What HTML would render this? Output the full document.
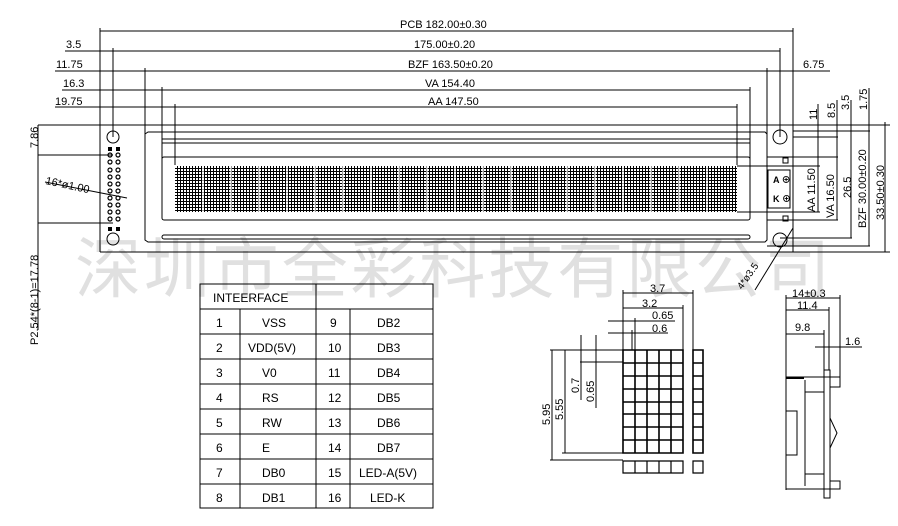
<!DOCTYPE html>
<html><head><meta charset="utf-8"><style>
html,body{margin:0;padding:0;background:#fff}
svg{display:block}
text{font-family:"Liberation Sans","Noto Sans CJK SC",sans-serif;fill:#000}
</style></head><body>
<svg width="898" height="526" viewBox="0 0 898 526" xmlns="http://www.w3.org/2000/svg">
<defs>
<pattern id="dots" width="3" height="3" patternUnits="userSpaceOnUse">
<rect width="3" height="3" fill="#fff"/><rect width="3" height="1" fill="#000"/><rect width="1" height="3" fill="#000"/>
</pattern>
</defs>
<!-- watermark -->
<text x="75" y="292" font-size="66" style="fill:#e0e0e0;font-family:'Noto Sans CJK SC',sans-serif" textLength="755">深圳市全彩科技有限公司</text>

<g stroke="#000" stroke-width="1" fill="none">
<line x1="100" y1="31" x2="793" y2="31"/>
<line x1="65" y1="51" x2="780" y2="51"/>
<line x1="55" y1="71" x2="830" y2="71"/>
<line x1="62" y1="90" x2="750" y2="90"/>
<line x1="55" y1="107" x2="737" y2="107"/>
<line x1="100" y1="28" x2="100" y2="252"/>
<line x1="113" y1="48" x2="113" y2="137"/>
<line x1="145" y1="68" x2="145" y2="134"/>
<line x1="162" y1="87" x2="162" y2="160"/>
<line x1="175" y1="104" x2="175" y2="165"/>
<line x1="793" y1="28" x2="793" y2="252"/>
<line x1="780" y1="48" x2="780" y2="137"/>
<line x1="767" y1="68" x2="767" y2="134"/>
<line x1="750" y1="87" x2="750" y2="160"/>
<line x1="737" y1="104" x2="737" y2="165"/>
<line x1="38" y1="125" x2="890" y2="125"/>
<line x1="100" y1="252" x2="890" y2="252"/>
<path d="M145 134 L148 132 L765 132 L767 134 L767 240 L765 242 L148 242 L145 240 Z"/>
<rect x="162" y="139" width="588" height="4"/>
<rect x="162" y="235" width="588" height="4" rx="2"/>
<rect x="162" y="157" width="588" height="63" rx="2"/>
<circle cx="113" cy="137" r="6"/>
<circle cx="113" cy="239" r="6"/>
<line x1="38" y1="155" x2="113" y2="155"/>
<line x1="38" y1="223" x2="113" y2="223"/>
<line x1="38" y1="125" x2="38" y2="330"/>
<line x1="45" y1="182" x2="127" y2="198"/>
<circle cx="780" cy="137" r="7"/>
<circle cx="780" cy="240" r="7"/>
<rect x="768" y="170" width="22" height="38"/>
<rect x="783" y="158" width="5" height="5"/>
<rect x="783" y="216" width="5" height="5"/>
<line x1="793" y1="228" x2="755" y2="290"/>
<line x1="818" y1="104" x2="818" y2="212"/>
<line x1="837" y1="100" x2="837" y2="220"/>
<line x1="851" y1="100" x2="851" y2="238"/>
<line x1="869" y1="88" x2="869" y2="246"/>
<line x1="885" y1="122" x2="885" y2="252"/>
<line x1="793" y1="131" x2="870" y2="131"/>
<line x1="793" y1="137" x2="838" y2="137"/>
<line x1="767" y1="157" x2="838" y2="157"/>
<line x1="737" y1="166" x2="820" y2="166"/>
<line x1="737" y1="212" x2="820" y2="212"/>
<line x1="767" y1="220" x2="838" y2="220"/>
<line x1="780" y1="238" x2="852" y2="238"/>
<line x1="767" y1="246" x2="870" y2="246"/>
<line x1="65" y1="51" x2="95" y2="51"/>
<line x1="803" y1="71" x2="828" y2="71"/>
</g>
<rect x="175" y="166" width="562" height="46" fill="url(#dots)"/>
<g stroke="#fff" stroke-width="1.2">
<path d="M203 166V212M231 166V212M259 166V212M287 166V212M315 166V212M343 166V212M371 166V212M399 166V212M427 166V212M455 166V212M483 166V212M511 166V212M539 166V212M567 166V212M595 166V212M623 166V212M651 166V212M679 166V212M707 166V212"/>
</g>
<g fill="none" stroke="#000" stroke-width="1.2">
<circle cx="110" cy="155" r="2"/><circle cx="118" cy="155" r="2"/>
<circle cx="110" cy="162" r="2"/><circle cx="118" cy="162" r="2"/>
<circle cx="110" cy="170" r="2"/><circle cx="118" cy="170" r="2"/>
<circle cx="110" cy="177" r="2"/><circle cx="118" cy="177" r="2"/>
<circle cx="110" cy="184" r="2"/><circle cx="118" cy="184" r="2"/>
<circle cx="110" cy="191" r="2"/><circle cx="118" cy="191" r="2"/>
<circle cx="110" cy="198" r="2"/><circle cx="118" cy="198" r="2"/>
<circle cx="110" cy="205" r="2"/><circle cx="118" cy="205" r="2"/>
<circle cx="110" cy="212" r="2"/><circle cx="118" cy="212" r="2"/>
<circle cx="110" cy="219" r="2"/><circle cx="118" cy="219" r="2"/>
</g>
<rect x="108" y="147" width="4" height="4"/><rect x="116" y="147" width="4" height="4"/>
<rect x="108" y="227" width="4" height="4"/><rect x="116" y="227" width="4" height="4"/>

<g font-size="11">
<text x="400" y="28">PCB 182.00±0.30</text>
<text x="414" y="48">175.00±0.20</text>
<text x="408" y="68">BZF 163.50±0.20</text>
<text x="425" y="87">VA 154.40</text>
<text x="428" y="105">AA 147.50</text>
<text x="66" y="48">3.5</text>
<text x="56" y="68">11.75</text>
<text x="63" y="87">16.3</text>
<text x="55" y="105">19.75</text>
<text x="803" y="68">6.75</text>
<text x="45" y="184" transform="rotate(12 45 184)">16*ø1.00</text>
<text x="773" y="183" font-weight="bold" font-size="9">A ⊕</text>
<text x="773" y="202" font-weight="bold" font-size="9">K ⊕</text>
</g>
<g font-size="11">
<text transform="translate(38,148) rotate(-90)">7.86</text>
<text transform="translate(38,345) rotate(-90)">P2.54*(8-1)=17.78</text>
<text transform="translate(817,120) rotate(-90)">11</text>
<text transform="translate(835,118) rotate(-90)">8.5</text>
<text transform="translate(849,110) rotate(-90)">3.5</text>
<text transform="translate(867,110) rotate(-90)">1.75</text>
<text transform="translate(815,212) rotate(-90)">AA 11.50</text>
<text transform="translate(834,218) rotate(-90)">VA 16.50</text>
<text transform="translate(851,198) rotate(-90)">26.5</text>
<text transform="translate(866,228) rotate(-90)">BZF 30.00±0.20</text>
<text transform="translate(884,220) rotate(-90)">33.50±0.30</text>
<text transform="translate(742,290) rotate(-55)" font-size="10">4*ø3.5</text>
</g>

<g stroke="#000" stroke-width="1" fill="none">
<rect x="200" y="284" width="233" height="224"/>
<line x1="316" y1="284" x2="316" y2="508"/>
<line x1="240" y1="309" x2="240" y2="508"/>
<line x1="350" y1="309" x2="350" y2="508"/>
<line x1="200" y1="309" x2="433" y2="309"/>
<line x1="200" y1="334" x2="433" y2="334"/>
<line x1="200" y1="359" x2="433" y2="359"/>
<line x1="200" y1="384" x2="433" y2="384"/>
<line x1="200" y1="409" x2="433" y2="409"/>
<line x1="200" y1="434" x2="433" y2="434"/>
<line x1="200" y1="459" x2="433" y2="459"/>
<line x1="200" y1="484" x2="433" y2="484"/>
</g>
<g font-size="12">
<text x="213" y="302">INTEERFACE</text>
<text x="216" y="327">1</text><text x="262" y="327">VSS</text><text x="330" y="327">9</text><text x="377" y="327">DB2</text>
<text x="216" y="352">2</text><text x="248" y="352">VDD(5V)</text><text x="328" y="352">10</text><text x="377" y="352">DB3</text>
<text x="216" y="377">3</text><text x="262" y="377">V0</text><text x="328" y="377">11</text><text x="377" y="377">DB4</text>
<text x="216" y="402">4</text><text x="262" y="402">RS</text><text x="328" y="402">12</text><text x="377" y="402">DB5</text>
<text x="216" y="427">5</text><text x="262" y="427">RW</text><text x="328" y="427">13</text><text x="377" y="427">DB6</text>
<text x="216" y="452">6</text><text x="262" y="452">E</text><text x="328" y="452">14</text><text x="377" y="452">DB7</text>
<text x="216" y="477">7</text><text x="262" y="477">DB0</text><text x="328" y="477">15</text><text x="359" y="477">LED-A(5V)</text>
<text x="216" y="502">8</text><text x="262" y="502">DB1</text><text x="328" y="502">16</text><text x="370" y="502">LED-K</text>
</g>

<g stroke="#000" stroke-width="1" fill="none">
<line x1="623" y1="293" x2="693" y2="293"/>
<line x1="623" y1="308" x2="683" y2="308"/>
<line x1="608" y1="321" x2="675" y2="321"/>
<line x1="608" y1="333" x2="668" y2="333"/>
<line x1="623" y1="290" x2="623" y2="350"/>
<line x1="693" y1="290" x2="693" y2="350"/>
<line x1="683" y1="305" x2="683" y2="350"/>
<line x1="635" y1="318" x2="635" y2="350"/>
<line x1="632" y1="330" x2="632" y2="350"/>
<line x1="550" y1="350" x2="623" y2="350"/>
<line x1="562" y1="453" x2="623" y2="453"/>
<line x1="550" y1="460" x2="623" y2="460"/>
<line x1="552" y1="350" x2="552" y2="460"/>
<line x1="565" y1="350" x2="565" y2="453"/>
<line x1="581" y1="335" x2="581" y2="400"/>
<line x1="596" y1="335" x2="596" y2="408"/>
<line x1="580" y1="362" x2="623" y2="362"/>
</g>
<g fill="none" stroke="#000">
<path d="M623 350H683V453H623Z M635 350V453 M647 350V453 M659 350V453 M671 350V453 M623 363H683 M623 376H683 M623 389H683 M623 402H683 M623 414H683 M623 427H683 M623 440H683" stroke-width="1.6"/>
<path d="M693 350H703V453H693Z M693 363H703 M693 376H703 M693 389H703 M693 402H703 M693 414H703 M693 427H703 M693 440H703" stroke-width="1.6"/>
<path d="M623 461H683V473H623Z M635 461V473 M647 461V473 M659 461V473 M671 461V473 M693 461H703V473H693Z" stroke-width="1.2"/>
</g>
<g font-size="11">
<text x="650" y="292">3.7</text>
<text x="642" y="307">3.2</text>
<text x="652" y="319">0.65</text>
<text x="652" y="332">0.6</text>
<text transform="translate(550,425) rotate(-90)">5.95</text>
<text transform="translate(563,420) rotate(-90)">5.55</text>
<text transform="translate(579,393) rotate(-90)">0.7</text>
<text transform="translate(594,402) rotate(-90)">0.65</text>
</g>

<g stroke="#000" stroke-width="1" fill="none">
<line x1="786" y1="298" x2="840" y2="298"/>
<line x1="786" y1="310" x2="829" y2="310"/>
<line x1="786" y1="334" x2="824" y2="334"/>
<line x1="815" y1="347" x2="862" y2="347"/>
<line x1="786" y1="295" x2="786" y2="490"/>
<line x1="840" y1="295" x2="840" y2="384"/>
<line x1="829" y1="307" x2="829" y2="370"/>
<line x1="824" y1="330" x2="824" y2="370"/>
<rect x="824" y="370" width="6" height="128"/>
<path d="M786 377H840V387H830 M786 489H840V481H830"/>
<line x1="805" y1="380" x2="805" y2="486"/>
<line x1="805" y1="392" x2="824" y2="392"/>
<line x1="805" y1="474" x2="824" y2="474"/>
<path d="M786 411H797V455H786"/>
<path d="M830 418L837 433L830 448"/>
</g>
<rect x="786" y="377" width="18" height="2" fill="#000"/>
<g font-size="11">
<text x="792" y="297">14±0.3</text>
<text x="797" y="309">11.4</text>
<text x="795" y="331">9.8</text>
<text x="845" y="345">1.6</text>
</g>
</svg>
</body></html>
